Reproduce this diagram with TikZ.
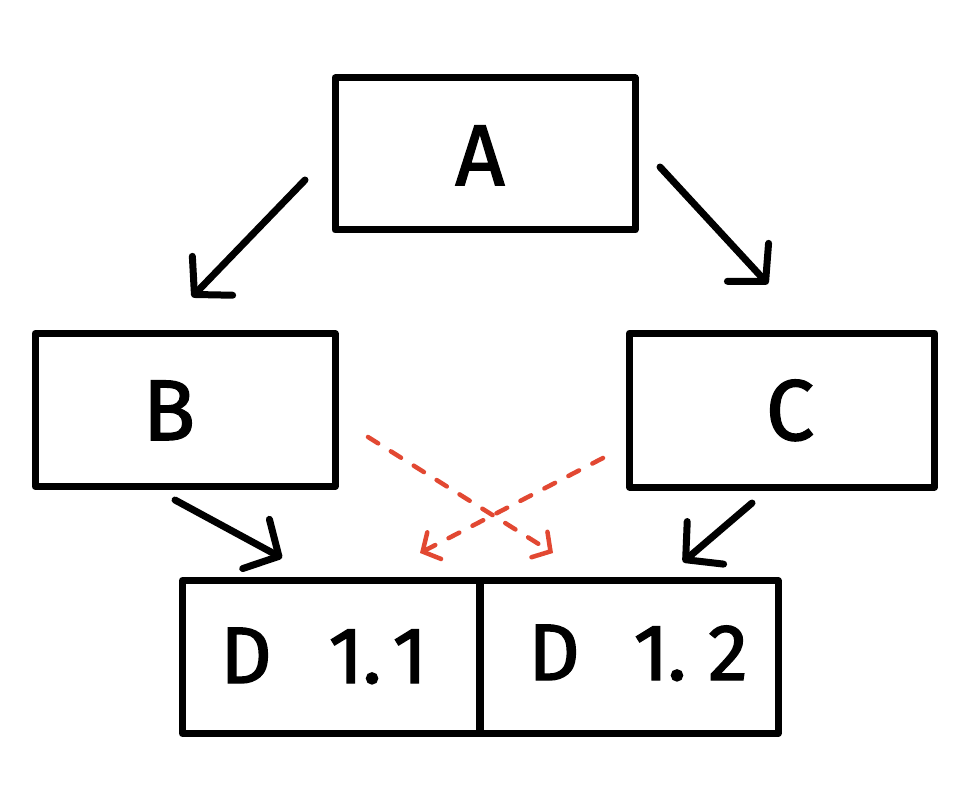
\documentclass[tikz,border=0pt]{standalone}
\usepackage{fontspec}
\setmainfont{Fira Sans}
\newfontfamily\handfont[FakeBold=1.8]{Fira Sans}
\usetikzlibrary{arrows.meta}
\newcommand{\cg}[1]{\makebox[0pt]{#1}}
\begin{document}
\begin{tikzpicture}[x=1pt,y=-1pt,
  box/.style={draw=black,line width=7pt,line join=round,inner sep=0pt},
  lbl/.style={font=\handfont\fontsize{86}{90}\selectfont,anchor=base,inner sep=0pt},
  dlbl/.style={font=\handfont\fontsize{80}{84}\selectfont,anchor=base,inner sep=0pt},
  arr/.style={line width=7pt,line cap=round,-{Straight Barb[length=26pt,width=56pt,line cap=round,line join=round]}},
  redarr/.style={draw={rgb,255:red,226;green,72;blue,50},line width=4.5pt,line cap=round,dash pattern=on 12pt off 15pt,-{Straight Barb[length=13pt,width=30pt,line cap=round]}}]
\useasboundingbox (0,0) rectangle (974,786);
\node[box,minimum width=300pt,minimum height=152pt] (A) at (485,154) {};
\node[box,minimum width=300pt,minimum height=153pt] (B) at (185,410) {};
\node[box,minimum width=305pt,minimum height=154pt] (C) at (782,410) {};
\node[box,minimum width=297pt,minimum height=153pt] (D1) at (331,657) {};
\node[box,minimum width=298pt,minimum height=153pt] (D2) at (629,657) {};
\node[lbl] (At) at (480,185) {A};
\node[lbl] (Bt) at (169,440) {B};
\node[lbl] (Ct) at (790,440) {C};
\node[dlbl] (D1t) at (328,683) {\cg{D}\hspace{100pt}\cg{1}\hspace{26pt}\cg{.}\hspace{38pt}\cg{1}};
\node[dlbl] (D2t) at (641,680) {\cg{D}\hspace{97pt}\cg{1}\hspace{26pt}\cg{.}\hspace{51pt}\cg{2}};
\coordinate (a1) at (305,180); \coordinate (b1) at (192,297);
\coordinate (a2) at (660,167); \coordinate (c1) at (768,284);
\coordinate (b2) at (175,500); \coordinate (d1) at (282,558);
\coordinate (c2) at (752,503); \coordinate (d2) at (683,562);
\coordinate (b3) at (368,437); \coordinate (d3) at (553,553);
\coordinate (c3) at (603,458); \coordinate (d4) at (420,553);
\draw[arr] (a1) -- (b1);
\draw[arr] (a2) -- (c1);
\draw[arr] (b2) -- (d1);
\draw[arr] (c2) -- (d2);
\draw[redarr] (b3) -- (d3);
\draw[redarr] (c3) -- (d4);
\end{tikzpicture}
\end{document}
